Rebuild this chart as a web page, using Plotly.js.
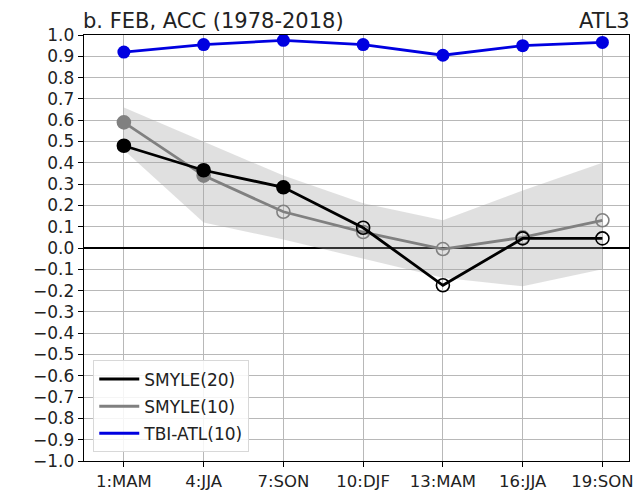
<!DOCTYPE html>
<html><head><meta charset="utf-8">
<script src="https://cdn.plot.ly/plotly-3.0.1.min.js"></script>
<style>body{margin:0;background:#fff}#c{width:639px;height:495px}</style>
</head><body><div id="c"></div>
<script>
const leads = [1, 4, 7, 10, 13, 16, 19];
const tickLabels = ["1:MAM", "4:JJA", "7:SON", "10:DJF", "13:MAM", "16:JJA", "19:SON"];
const smyle20 = [0.48, 0.365, 0.285, 0.095, -0.175, 0.045, 0.045];
const smyle20Filled = [true, true, true, false, false, false, false];
const smyle10 = [0.59, 0.34, 0.17, 0.075, -0.005, 0.05, 0.13];
const smyle10Filled = [true, true, false, false, false, false, false];
const tbiAtl10 = [0.92, 0.955, 0.975, 0.955, 0.905, 0.95, 0.965];
const spreadUpper = [0.66, 0.50, 0.34, 0.21, 0.13, 0.27, 0.40];
const spreadLower = [0.46, 0.12, 0.04, -0.05, -0.14, -0.18, -0.10];
const yTicks = [];
for (let i = -10; i <= 10; i++) yTicks.push(i / 10);

const sym = f => f.map(v => v ? 'circle' : 'circle-open');
const traces = [
  {x: leads, y: spreadLower, mode: 'lines', line: {width: 0}, showlegend: false, hoverinfo: 'skip'},
  {x: leads, y: spreadUpper, mode: 'lines', line: {width: 0}, fill: 'tonexty', fillcolor: 'rgba(160,160,160,0.32)', showlegend: false, hoverinfo: 'skip'},
  {x: leads, y: smyle10, mode: 'lines+markers', line: {color: '#808080', width: 2.8},
   marker: {symbol: sym(smyle10Filled), size: 13, color: '#808080', line: {color: '#808080', width: 1.6}}, showlegend: false},
  {x: leads, y: smyle20, mode: 'lines+markers', line: {color: '#000000', width: 2.8},
   marker: {symbol: sym(smyle20Filled), size: 13, color: '#000000', line: {color: '#000000', width: 1.6}}, showlegend: false},
  {x: leads, y: tbiAtl10, mode: 'lines+markers', line: {color: '#0000e0', width: 2.8},
   marker: {symbol: 'circle', size: 13, color: '#0000e0'}, showlegend: false},
  {x: [null], y: [null], mode: 'lines', name: 'SMYLE(20)', legendgroup: 'a', legendrank: 1, line: {color: '#000000', width: 3}},
  {x: [null], y: [null], mode: 'lines', name: 'SMYLE(10)', legendgroup: 'b', legendrank: 2, line: {color: '#808080', width: 3}},
  {x: [null], y: [null], mode: 'lines', name: 'TBI-ATL(10)', legendgroup: 'c', legendrank: 3, line: {color: '#0000e0', width: 3}}
];
const tf = {family: 'DejaVu Sans', size: 17, color: '#222'};
const layout = {
  width: 639, height: 495,
  margin: {l: 84, r: 10, t: 35, b: 34},
  paper_bgcolor: '#fff', plot_bgcolor: '#fff',
  font: tf,
  showlegend: true,
  xaxis: {range: [-0.5, 20], tickvals: leads, ticktext: tickLabels, showgrid: true, gridcolor: '#b8b8b8', gridwidth: 1,
    showline: true, linecolor: '#000', linewidth: 1.3, mirror: true, ticks: 'outside', ticklen: 5, tickcolor: '#000', zeroline: false,
    tickfont: {family: 'DejaVu Sans', size: 16.5, color: '#222'}},
  yaxis: {range: [-1, 1], tickvals: yTicks, tickformat: '.1f', showgrid: true, gridcolor: '#b8b8b8', gridwidth: 1,
    showline: true, linecolor: '#000', linewidth: 1.3, mirror: true, ticks: 'outside', ticklen: 5, tickcolor: '#000',
    zeroline: true, zerolinecolor: '#000', zerolinewidth: 2, tickfont: tf},
  legend: {x: 0.017, y: 0.02, xanchor: 'left', yanchor: 'bottom', bgcolor: 'rgba(255,255,255,0.85)', bordercolor: '#d8d8d8', borderwidth: 1,
    font: {family: 'DejaVu Sans', size: 17, color: '#222'}, itemwidth: 40, traceorder: 'grouped', tracegroupgap: 2},
  annotations: [
    {text: 'b. FEB, ACC (1978-2018)', xref: 'paper', yref: 'paper', x: 0, y: 1, xanchor: 'left', yanchor: 'bottom', yshift: 0, xshift: -3, showarrow: false, font: {family: 'DejaVu Sans', size: 21, color: '#222'}},
    {text: 'ATL3', xref: 'paper', yref: 'paper', x: 1, y: 1, xanchor: 'right', yanchor: 'bottom', yshift: 0, xshift: 3, showarrow: false, font: {family: 'DejaVu Sans', size: 21, color: '#222'}}
  ]
};
Plotly.newPlot('c', traces, layout, {displayModeBar: false, staticPlot: true});
</script></body></html>
